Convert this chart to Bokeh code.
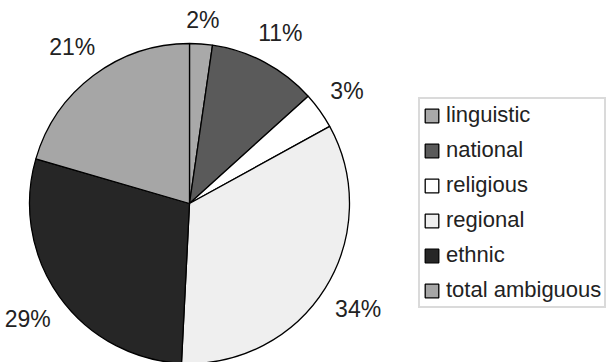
import numpy as np
from bokeh.plotting import figure
from bokeh.models import ColumnDataSource, Range1d, Legend, LegendItem
from bokeh.core.properties import value
from bokeh.embed import file_html
from bokeh.resources import INLINE

categories = ["linguistic", "national", "religious", "regional", "ethnic", "total ambiguous"]
shares = [2.3, 11.0, 3.7, 33.8, 28.7, 20.5]
pct_labels = ["2%", "11%", "3%", "34%", "29%", "21%"]
colors = ["#a9a9a9", "#5a5a5a", "#ffffff", "#efefef", "#262626", "#a6a6a6"]

FS = 23  # label font size in px
LFS = 22  # legend font size in px
vals = np.array(shares, dtype=float)
frac = vals / vals.sum()
cum_end = np.cumsum(frac)
cum_start = cum_end - frac
start = np.pi / 2 - 2 * np.pi * cum_start
end = np.pi / 2 - 2 * np.pi * cum_end
mid = (start + end) / 2

R = 160.0
GAP = 15.0
em = {"%": 0.889}
half_w = np.array([0.5 * FS * sum(em.get(ch, 0.556) for ch in s) for s in pct_labels])
half_h = 0.36 * FS
dist = R + GAP + np.abs(np.cos(mid)) * half_w + np.abs(np.sin(mid)) * half_h

src = ColumnDataSource(dict(
    cat=categories, start=start, end=end, color=colors,
    lx=dist * np.cos(mid), ly=dist * np.sin(mid), lab=pct_labels,
))

W, H = 606, 362
cx, cy = 189, 159
p = figure(width=W, height=H, output_backend="svg", toolbar_location=None,
           x_range=Range1d(-cx, W - cx), y_range=Range1d(-cy, H - cy),
           min_border=0, outline_line_color=None, background_fill_color="white")
p.axis.visible = False
p.grid.visible = False

w = p.wedge(x=0, y=0, radius=R, start_angle="start", end_angle="end", direction="clock",
            fill_color="color", line_color="black", line_width=1.3, source=src)

p.text(x="lx", y="ly", text="lab", source=src, text_align="center", text_baseline="middle",
       text_font=value("Liberation Sans"), text_font_size=f"{FS}px", text_color="#222222")

items = [LegendItem(label=c, renderers=[w], index=i) for i, c in enumerate(categories)]
legend = Legend(items=items, location=(418, 54), orientation="vertical",
                glyph_width=17, glyph_height=17, label_standoff=6, spacing=9, padding=3,
                margin=0, label_text_font="Liberation Sans",
                label_text_font_size=f"{LFS}px", label_text_color="#222222",
                border_line_color="#b5b5b5", border_line_width=2,
                background_fill_color="white", background_fill_alpha=1.0)
p.add_layout(legend)

open("out.html", "w").write(file_html(p, INLINE))
